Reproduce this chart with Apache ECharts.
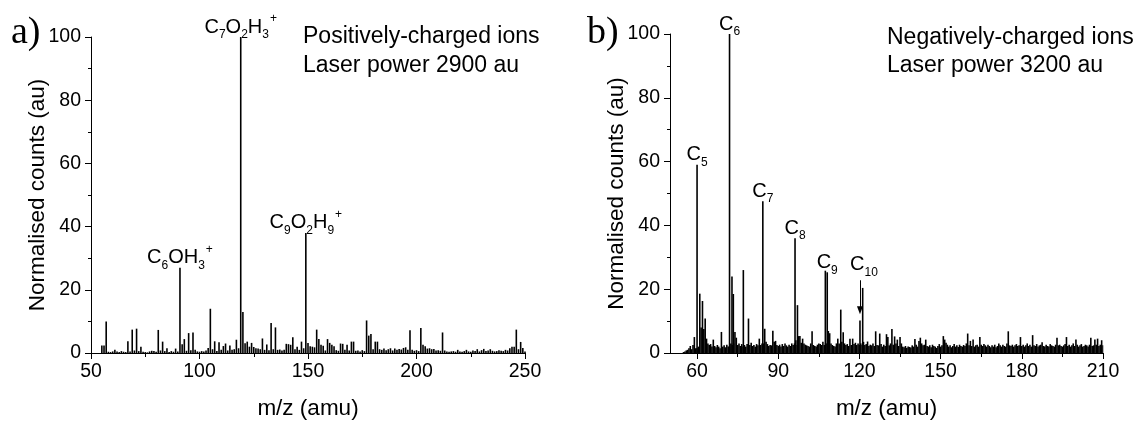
<!DOCTYPE html>
<html><head><meta charset="utf-8">
<script src="https://cdn.jsdelivr.net/npm/echarts@6/dist/echarts.min.js"></script>
<style>html,body{margin:0;padding:0;background:#fff}#c{width:1134px;height:421px}</style>
</head><body><div id="c"></div>
<script>
// ---------- Panel a) positively-charged ions (integer m/z from 54) ----------
const posMzStart = 54;
const posCounts = [
  0, 2.4, 2.4, 10, 0.4, 0.3, 0.5, 1.0, 0.5, 0.3,
  0.6, 0.4, 0.3, 3.7, 0.5, 7.4, 0.8, 7.7, 0.6, 2.0,
  0.4, 0.3, 0.2, 0.5, 0.7, 0.6, 0.4, 7.3, 0.8, 3.6,
  0.6, 1.5, 0.3, 0.6, 0.4, 1.4, 0.5, 27, 2.8, 4.4,
  0.7, 6.3, 0.9, 6.5, 1.0, 0.5, 0.4, 0.6, 0.5, 0.8,
  1.6, 14, 1.2, 3.7, 0.6, 3.4, 1.0, 2.2, 3.0, 0.8,
  2.4, 1.0, 1.2, 4.2, 1.5, 100, 13, 3.1, 3.6, 2.0,
  3.2, 1.9, 1.5, 1.4, 1.2, 4.6, 1.0, 2.7, 0.9, 9.5,
  1.2, 8.1, 1.0, 1.1, 0.8, 1.0, 2.9, 2.8, 2.6, 5.0,
  1.2, 2.0, 1.0, 3.6, 1.5, 38, 3.2, 2.1, 2.0, 1.8,
  7.4, 4.4, 2.6, 2.3, 0.8, 4.4, 3.2, 2.6, 2.1, 0.9,
  0.7, 3.0, 2.9, 1.0, 2.6, 0.8, 3.6, 3.6, 0.7, 0.8,
  0.5, 0.9, 0.6, 10.3, 5.5, 6.0, 1.2, 3.6, 3.6, 1.2,
  1.0, 1.4, 0.9, 1.2, 1.5, 0.8, 1.4, 1.0, 1.3, 1.1,
  1.6, 1.8, 1.0, 7.2, 1.0, 0.7, 0.9, 0.6, 7.9, 2.6,
  2.1, 1.4, 1.5, 1.2, 1.3, 0.8, 0.9, 0.7, 6.5, 0.8,
  0.5, 0.4, 0.5, 0.6, 0.4, 1.0, 0.5, 0.4, 0.6, 1.0,
  0.5, 0.4, 0.8, 0.6, 1.2, 0.5, 0.9, 1.3, 0.6, 0.8,
  1.2, 0.7, 0.5, 0.6, 0.9, 0.7, 0.6, 1.0, 0.8, 1.5,
  2.0, 2.0, 7.4, 1.2, 3.5, 1.6, 0.5
];
const posLabelMz = [91, 119, 149];
const posLabels = [
  '{n|C}{s|6}{n|OH}{s|3}{p|+}',
  '{n|C}{s|7}{n|O}{s|2}{n|H}{s|3}{p|+}',
  '{n|C}{s|9}{n|O}{s|2}{n|H}{s|9}{p|+}'
];
const posXMin = 50, posXMax = 250, posXInterval = 50;

// ---------- Panel b) negatively-charged ions ----------
const negMzStart = 54;
const negStep = 0.5;
const negNoise = [
  0, 0, 0.3, 0.5, 0.8, 1.0, 1.5, 2.2, 1.2, 2.5,
  5.0, 1.5, 1.5, 2.0, 18.6, 8.0, 16.3, 7.5, 10.8, 4.5,
  3.0, 2.5, 2.8, 2.0, 4.2, 2.2, 1.8, 2.5, 2.0, 1.5,
  6.6, 2.0, 2.4, 1.8, 2.6, 2.0, 2.0, 3.0, 2.5, 3.0,
  6.6, 4.8, 2.5, 3.0, 2.2, 2.8, 2.0, 2.5, 2.0, 2.8,
  10.8, 2.5, 3.2, 2.2, 2.5, 2.0, 2.8, 2.4, 4.5, 2.5,
  3.0, 3.0, 7.6, 3.5, 2.8, 2.2, 2.5, 2.4, 7.0, 3.5,
  3.8, 2.5, 2.2, 2.6, 2.0, 2.8, 2.2, 3.0, 2.4, 2.0,
  2.6, 2.2, 3.0, 2.5, 3.0, 4.0, 2.5, 5.3, 5.3, 3.2,
  4.5, 3.0, 2.6, 2.4, 2.2, 2.0, 3.0, 6.8, 2.5, 2.2,
  2.0, 2.6, 3.0, 2.8, 2.5, 3.5, 2.5, 3.0, 3.0, 6.9,
  6.2, 3.0, 2.5, 2.2, 2.0, 3.0, 4.5, 3.0, 2.5, 3.5,
  6.5, 3.0, 2.5, 2.8, 2.2, 4.5, 2.5, 4.5, 2.8, 3.2,
  2.5, 3.0, 2.5, 3.0, 2.5, 3.5, 2.5, 2.8, 3.6, 2.2,
  2.6, 2.4, 3.0, 2.2, 6.8, 2.5, 2.4, 6.1, 2.8, 2.0,
  2.6, 2.2, 5.9, 5.0, 2.4, 3.0, 7.5, 2.6, 5.2, 3.0,
  4.2, 2.2, 5.0, 3.0, 2.0, 1.8, 2.2, 1.6, 2.0, 1.9,
  1.7, 2.4, 2.0, 4.4, 2.6, 2.0, 3.8, 4.8, 3.0, 2.4,
  2.6, 4.2, 2.2, 2.0, 2.4, 1.8, 2.6, 2.2, 2.0, 1.6,
  2.2, 2.8, 2.0, 2.4, 5.3, 4.2, 3.2, 2.6, 2.0, 2.4,
  1.8, 2.2, 2.8, 2.0, 2.4, 1.9, 2.6, 2.2, 2.0, 2.5,
  2.2, 3.0, 6.1, 2.4, 3.8, 2.2, 4.2, 2.0, 2.4, 2.6,
  2.0, 5.0, 2.6, 2.2, 2.8, 2.4, 2.0, 2.6, 2.2, 1.8,
  2.4, 2.0, 2.6, 1.8, 2.2, 3.0, 2.4, 2.0, 2.6, 2.2,
  2.0, 3.0, 6.8, 2.4, 2.2, 2.6, 2.0, 2.4, 2.8, 2.2,
  2.4, 5.0, 2.2, 2.6, 2.0, 2.4, 3.0, 2.2, 2.6, 2.0,
  5.6, 2.4, 2.2, 2.8, 2.0, 2.4, 2.6, 3.4, 2.2, 2.0,
  2.6, 2.2, 2.0, 2.8, 2.4, 2.2, 2.0, 2.6, 4.8, 2.4,
  2.6, 2.2, 2.0, 2.4, 2.8, 5.0, 2.2, 2.6, 2.0, 2.4,
  3.0, 2.2, 4.2, 2.6, 2.0, 2.4, 2.8, 2.0, 2.2, 2.6,
  2.4, 2.0, 2.6, 4.8, 2.2, 2.4, 4.2, 2.6, 4.5, 2.2,
  2.6, 4.0, 2.4
];
const negPeakMz     = [60, 72, 72.9, 73.4, 77.1, 84.3, 96.2, 97.1, 107.4, 108.1, 113.1, 120.2, 121.2];
const negPeakCounts = [59, 100, 24, 18.5, 26, 47.6, 36, 15, 25.8, 25.3, 13.6, 10.2, 20.4];
const negLabelMz = [60, 72, 84.3, 96.2, 108.1];
const negLabels = ['{n|C}{s|5}', '{n|C}{s|6}', '{n|C}{s|7}', '{n|C}{s|8}', '{n|C}{s|9}'];
const negArrowMz = 120.2, negArrowFrom = 22.8, negArrowTo = 13.4;
const negArrowLabel = '{n|C}{s|10}';
const negXMin = 50, negXMax = 210;
const negXTicks = [60, 90, 120, 150, 180, 210];
const negXMinorTicks = [75, 105, 135, 165, 195];

const yMin = 0, yMax = 100, yInterval = 20;

// ---------- build ----------
const FONT = '"Liberation Sans", Arial, Helvetica, sans-serif';
const RICH = {
  n: { fontSize: 20, lineHeight: 22, verticalAlign: 'top', padding: [6, 0, 0, 0], fontFamily: FONT, color: '#000' },
  s: { fontSize: 12, lineHeight: 12, verticalAlign: 'top', padding: [18, 0, 0, 0], fontFamily: FONT, color: '#000' },
  p: { fontSize: 12, lineHeight: 12, verticalAlign: 'top', padding: [2, 0, 0, 1], fontFamily: FONT, color: '#000' }
};

const posData = posCounts.map((v, i) => {
  const mz = posMzStart + i;
  const item = { value: [mz, v] };
  const k = posLabelMz.indexOf(mz);
  if (k >= 0) item.label = { show: true, formatter: posLabels[k] };
  return item;
});

const negData = negNoise.map((v, i) => ({ value: [negMzStart + i * negStep, v] }));
negPeakMz.forEach((mz, i) => {
  const item = { value: [mz, negPeakCounts[i]] };
  const k = negLabelMz.indexOf(mz);
  if (k >= 0) item.label = { show: true, formatter: negLabels[k] };
  negData.push(item);
});

const axisLineStyle = { show: true, lineStyle: { color: '#000', width: 1 } };
const tickLabel = { color: '#000', fontSize: 19.5, fontFamily: FONT };
const nameStyle = { color: '#000', fontSize: 22.5, fontFamily: FONT };

function yAxisFor(grid) {
  return {
    gridIndex: grid, type: 'value', min: yMin, max: yMax, interval: yInterval,
    axisLine: axisLineStyle,
    axisTick: { show: true, length: 6, lineStyle: { color: '#000' } },
    minorTick: { show: true, splitNumber: 2, length: 3, lineStyle: { color: '#000' } },
    axisLabel: Object.assign({ margin: 10 }, tickLabel),
    splitLine: { show: false }, minorSplitLine: { show: false },
    name: 'Normalised counts (au)', nameLocation: 'middle', nameGap: 42,
    nameMoveOverlap: false,
    nameTextStyle: nameStyle
  };
}

const barLabelBase = { show: false, position: 'top', distance: 0, offset: [0, -4], rich: RICH };

const option = {
  animation: false,
  backgroundColor: '#fff',
  grid: [
    { left: 91, top: 37, width: 434, height: 316, outerBoundsMode: 'none', containLabel: false },
    { left: 670, top: 34, width: 433, height: 319, outerBoundsMode: 'none', containLabel: false },
    { left: 670, top: 34, width: 433, height: 319, outerBoundsMode: 'none', containLabel: false }
  ],
  xAxis: [
    {
      gridIndex: 0, type: 'value', min: posXMin, max: posXMax, interval: posXInterval,
      axisLine: axisLineStyle,
      axisTick: { show: true, length: 6, lineStyle: { color: '#000' } },
      minorTick: { show: true, splitNumber: 2, length: 4, lineStyle: { color: '#000' } },
      axisLabel: Object.assign({ margin: 9 }, tickLabel),
      splitLine: { show: false }, minorSplitLine: { show: false },
      name: 'm/z (amu)', nameLocation: 'middle', nameGap: 44, nameMoveOverlap: false, nameTextStyle: nameStyle
    },
    {
      gridIndex: 1, type: 'value', min: negXMin, max: negXMax,
      axisLine: axisLineStyle,
      axisTick: { show: true, length: 6, customValues: negXTicks, lineStyle: { color: '#000' } },
      axisLabel: Object.assign({ margin: 9, customValues: negXTicks }, tickLabel),
      splitLine: { show: false },
      name: 'm/z (amu)', nameLocation: 'middle', nameGap: 44, nameMoveOverlap: false, nameTextStyle: nameStyle
    },
    {
      gridIndex: 2, type: 'value', min: negXMin, max: negXMax,
      axisLine: { show: false },
      axisTick: { show: true, length: 4, customValues: negXMinorTicks, lineStyle: { color: '#000' } },
      axisLabel: { show: false, customValues: negXMinorTicks },
      splitLine: { show: false }
    }
  ],
  yAxis: [
    yAxisFor(0),
    yAxisFor(1),
    { gridIndex: 2, type: 'value', min: yMin, max: yMax, show: false, splitLine: { show: false } }
  ],
  series: [
    {
      type: 'bar', xAxisIndex: 0, yAxisIndex: 0, data: posData, barWidth: 1.6,
      itemStyle: { color: '#000' }, silent: true, label: barLabelBase
    },
    {
      type: 'bar', xAxisIndex: 1, yAxisIndex: 1, data: negData, barWidth: 1.6,
      itemStyle: { color: '#000' }, silent: true, label: barLabelBase,
      markLine: {
        silent: true, symbol: ['none', 'triangle'], symbolSize: [6, 8],
        lineStyle: { color: '#000', width: 1, type: 'solid' },
        label: { show: false },
        emphasis: { disabled: true },
        data: [[{ coord: [negArrowMz, negArrowFrom] }, { coord: [negArrowMz, negArrowTo] }]]
      },
      markPoint: {
        silent: true,
        data: [{
          coord: [negArrowMz, negArrowFrom], symbol: 'circle', symbolSize: 0,
          itemStyle: { color: 'rgba(0,0,0,0)' },
          label: { show: true, position: 'top', distance: 10, offset: [4, 0], formatter: negArrowLabel, rich: RICH }
        }]
      }
    }
  ],
  graphic: [
    { type: 'text', x: 11, y: 33, style: { text: 'a)', font: '38px "Liberation Serif", "Times New Roman", serif', fill: '#000', textVerticalAlign: 'middle' } },
    { type: 'text', x: 587, y: 33, style: { text: 'b)', font: '38px "Liberation Serif", "Times New Roman", serif', fill: '#000', textVerticalAlign: 'middle' } },
    { type: 'text', x: 303, y: 37, style: { text: 'Positively-charged ions', font: '23px ' + FONT, fill: '#000', textVerticalAlign: 'middle' } },
    { type: 'text', x: 303, y: 66, style: { text: 'Laser power 2900 au', font: '23px ' + FONT, fill: '#000', textVerticalAlign: 'middle' } },
    { type: 'text', x: 887, y: 38, style: { text: 'Negatively-charged ions', font: '23px ' + FONT, fill: '#000', textVerticalAlign: 'middle' } },
    { type: 'text', x: 887, y: 66, style: { text: 'Laser power 3200 au', font: '23px ' + FONT, fill: '#000', textVerticalAlign: 'middle' } }
  ]
};

const chart = echarts.init(document.getElementById('c'), null, { renderer: 'canvas' });
chart.setOption(option);
</script>
</body></html>
